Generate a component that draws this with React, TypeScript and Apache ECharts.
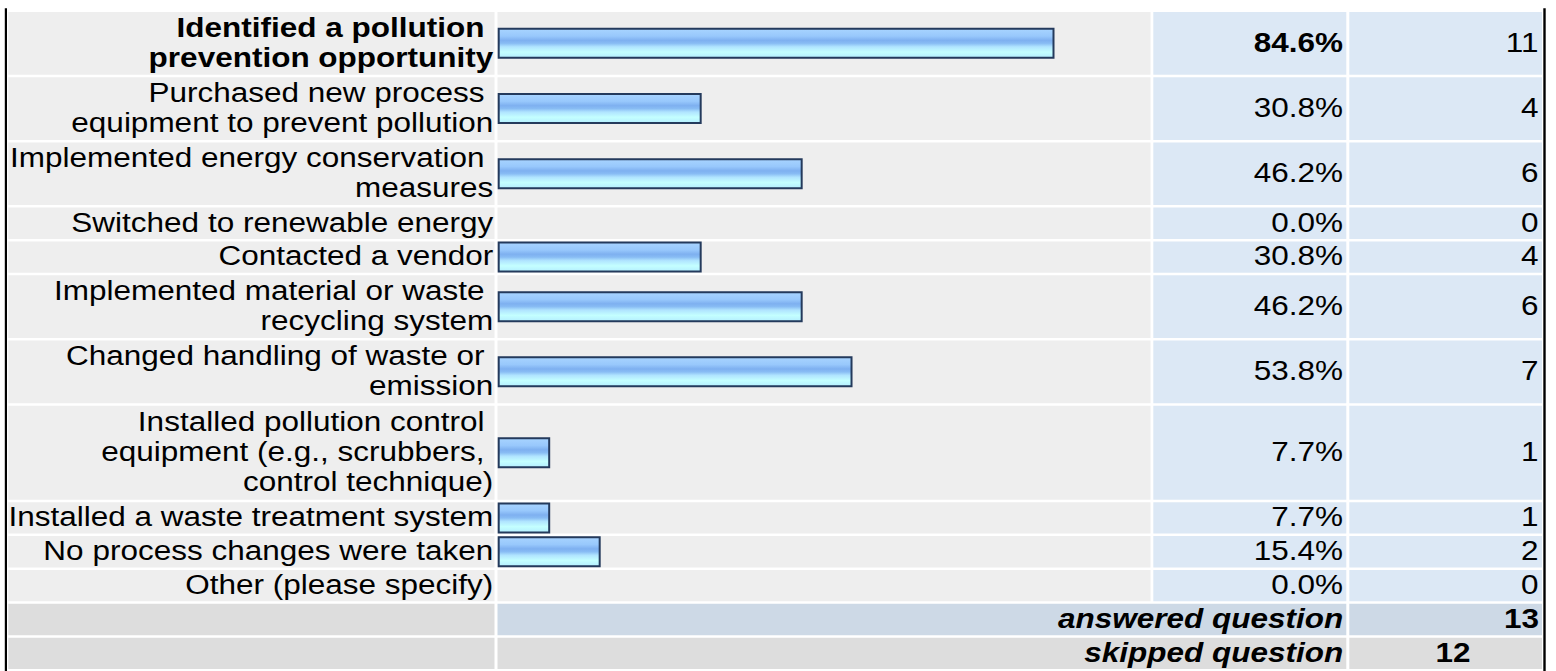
import { useEffect, useRef } from "react";
import * as echarts from "echarts";

// Answer choices (wrapped the way they appear in the table)
const choiceLines: string[][] = [
  ["Identified a pollution", "prevention opportunity"],
  ["Purchased new process", "equipment to prevent pollution"],
  ["Implemented energy conservation", "measures"],
  ["Switched to renewable energy"],
  ["Contacted a vendor"],
  ["Implemented material or waste", "recycling system"],
  ["Changed handling of waste or", "emission"],
  ["Installed pollution control", "equipment (e.g., scrubbers,", "control technique)"],
  ["Installed a waste treatment system"],
  ["No process changes were taken"],
  ["Other (please specify)"],
];
const responsePercent = [84.6, 30.8, 46.2, 0.0, 30.8, 46.2, 53.8, 7.7, 7.7, 15.4, 0.0];
const responseCount = [11, 4, 6, 0, 4, 6, 7, 1, 1, 2, 0];
const topChoice = 0;

const summaryLabels = ["answered question", "skipped question"];
const summaryCounts = [13, 12];

// ---- layout & style ----
const W = 1556;
const H = 671;
const FONT_FAMILY = '"Liberation Sans", Arial, Helvetica, sans-serif';
const FONT_SIZE = 28;
const TEXT_SCALE_X = 1.125;
const LINE_HEIGHT = 30;
const ROW_PAD = 0.08; // extra height per row, in line units
const HALF_GAP = 1.25;
const TEXT_SHIFT = -1.5;
const SPACE_W = 0.278 * FONT_SIZE * TEXT_SCALE_X;
const COL = {
  label: [8.3, 494.5],
  bar: [497.5, 1150.5],
  pct: [1153.3, 1346.3],
  count: [1349.3, 1542],
};
const CELL_GRAY = "#eeeeee";
const CELL_BLUE = "#dce8f5";
const SUMMARY_GRAY = "#dddddd";
const SUMMARY_FILLS = ["#cdd9e6", SUMMARY_GRAY];
const SKIPPED_COUNT_CENTER = 1453;

// Vertical layout in line units: every row is as tall as its text lines plus padding
const rowLines = [...choiceLines.map((l) => l.length), ...summaryLabels.map(() => 1)];
const rowStart: number[] = [];
let acc = 0;
rowLines.forEach((n) => {
  rowStart.push(acc);
  acc += n + ROW_PAD;
});
const totalUnits = acc;
const rowEnd = rowStart.map((s, i) => s + rowLines[i] + ROW_PAD);

function cell(col: number[], top: number, bottom: number, fill: string) {
  return {
    type: "rect",
    shape: { x: col[0], y: top, width: col[1] - col[0], height: bottom - top },
    style: { fill },
  };
}

function txt(
  text: string,
  x: number,
  y: number,
  align: string,
  bold = false,
  italic = false
) {
  return {
    type: "text",
    x,
    y,
    scaleX: TEXT_SCALE_X,
    style: {
      text,
      x: 0,
      y: 0,
      align,
      verticalAlign: "middle",
      fill: "#000",
      fontFamily: FONT_FAMILY,
      fontSize: FONT_SIZE,
      fontWeight: bold ? "bold" : "normal",
      fontStyle: italic ? "italic" : "normal",
    },
  };
}

export default function App() {
  const ref = useRef<HTMLDivElement>(null);

  useEffect(() => {
    if (!ref.current) return;
    const chart = echarts.init(ref.current, null, { renderer: "svg" });

    const nChoices = choiceLines.length;
    const tableData = choiceLines.map((_, i) => [responsePercent[i], rowStart[i], rowEnd[i]]);
    const summaryData = summaryLabels.map((_, k) => [
      summaryCounts[k],
      rowStart[nChoices + k],
      rowEnd[nChoices + k],
    ]);
    const barData = choiceLines.map((_, i) => [
      responsePercent[i],
      (rowStart[i] + rowEnd[i]) / 2,
    ]);

    const barFill = new echarts.graphic.LinearGradient(0, 0, 0, 1, [
      { offset: 0, color: "#a8d4ff" },
      { offset: 0.25, color: "#98c8fc" },
      { offset: 0.4, color: "#7eb0f0" },
      { offset: 0.5, color: "#88bcf4" },
      { offset: 0.62, color: "#b0e4ff" },
      { offset: 0.8, color: "#c4ffff" },
      { offset: 1, color: "#b4eeff" },
    ]);

    chart.setOption({
      animation: false,
      backgroundColor: "#ffffff",
      grid: {
        left: 498.7,
        right: 401.5,
        top: 10.75,
        bottom: 0.75,
        outerBoundsMode: "none",
      },
      xAxis: { type: "value", min: 0, max: 100, show: false },
      yAxis: { type: "value", inverse: true, min: 0, max: totalUnits, show: false },
      graphic: [
        { type: "rect", shape: { x: 4.8, y: 8.3, width: 2.2, height: H - 8.3 }, style: { fill: "#000" } },
        { type: "rect", shape: { x: 1543.3, y: 8.3, width: 2.4, height: H - 8.3 }, style: { fill: "#000" } },
      ],
      series: [
        {
          type: "custom",
          name: "table",
          coordinateSystem: "cartesian2d",
          encode: { x: 0, y: [1, 2] },
          clip: false,
          silent: true,
          z: 1,
          data: tableData,
          renderItem: (params: any, api: any) => {
            const i = params.dataIndex;
            const top = api.coord([0, api.value(1)])[1] + HALF_GAP;
            const bottom = api.coord([0, api.value(2)])[1] - HALF_GAP;
            const cy = (top + bottom) / 2 + TEXT_SHIFT;
            const bold = i === topChoice;
            const lines = choiceLines[i];
            const children: any[] = [
              cell(COL.label, top, bottom, CELL_GRAY),
              cell(COL.bar, top, bottom, CELL_GRAY),
              cell(COL.pct, top, bottom, CELL_BLUE),
              cell(COL.count, top, bottom, CELL_BLUE),
            ];
            lines.forEach((ln, k) => {
              const y = cy + (k - (lines.length - 1) / 2) * LINE_HEIGHT;
              const right = COL.label[1] - 1.2 - (k < lines.length - 1 ? SPACE_W : 0);
              children.push(txt(ln, right, y, "right", bold));
            });
            children.push(
              txt(api.value(0).toFixed(1) + "%", COL.pct[1] - 3.3, cy, "right", bold)
            );
            children.push(txt(String(responseCount[i]), COL.count[1] - 3.5, cy, "right"));
            return { type: "group", children };
          },
        },
        {
          type: "custom",
          name: "summary",
          coordinateSystem: "cartesian2d",
          encode: { x: 0, y: [1, 2] },
          clip: false,
          silent: true,
          z: 1,
          data: summaryData,
          renderItem: (params: any, api: any) => {
            const k = params.dataIndex;
            const top = api.coord([0, api.value(1)])[1] + HALF_GAP;
            const bottom = api.coord([0, api.value(2)])[1] - HALF_GAP;
            const cy = (top + bottom) / 2 + TEXT_SHIFT;
            const fill = SUMMARY_FILLS[k];
            const count = String(api.value(0));
            return {
              type: "group",
              children: [
                cell(COL.label, top, bottom, SUMMARY_GRAY),
                cell([COL.bar[0], COL.pct[1]], top, bottom, fill),
                cell(COL.count, top, bottom, fill),
                txt(summaryLabels[k], COL.pct[1] - 3, cy, "right", true, true),
                k === 0
                  ? txt(count, COL.count[1] - 3, cy, "right", true)
                  : txt(count, SKIPPED_COUNT_CENTER, cy, "center", true),
              ],
            };
          },
        },
        {
          type: "custom",
          name: "Response Percent",
          coordinateSystem: "cartesian2d",
          encode: { x: 0, y: 1 },
          clip: false,
          silent: true,
          z: 3,
          data: barData,
          renderItem: (_params: any, api: any) => {
            const pct = api.value(0);
            if (!(pct > 0)) return null;
            const start = api.coord([0, api.value(1)]);
            const end = api.coord([pct, api.value(1)]);
            return {
              type: "rect",
              shape: { x: start[0], y: start[1] - 14.5, width: end[0] - start[0], height: 29 },
              style: { fill: barFill, stroke: "#243a5c", lineWidth: 2 },
            };
          },
        },
      ],
    });

    return () => chart.dispose();
  }, []);

  return (
    <div
      ref={ref}
      style={{ position: "absolute", left: 0, top: 0, width: W, height: H, background: "#fff" }}
    />
  );
}
